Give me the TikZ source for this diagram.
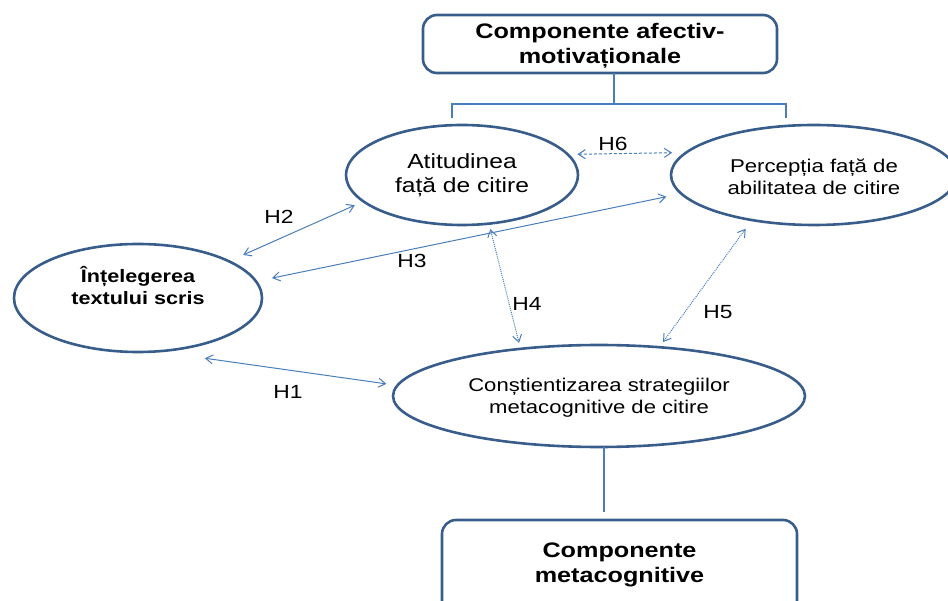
\documentclass[tikz,border=0pt]{standalone}
\usepackage{fontspec}
\setmainfont{Liberation Sans}[FakeStretch=1.2]
\usetikzlibrary{arrows.meta,shapes.geometric,calc}

\definecolor{frameblue}{RGB}{56,93,138}
\definecolor{linkblue}{RGB}{74,126,187}

\tikzset{
  oval/.style={ellipse, draw=frameblue, line width=2.6pt, inner sep=0pt,
    outer sep=0pt, align=center, text=black},
  panel/.style={rectangle, rounded corners=14pt, draw=frameblue,
    line width=2.6pt, outer sep=0pt, align=center},
  panelfont/.style={font=\bfseries\fontsize{21}{24.5}\selectfont},
  barb/.tip={Straight Barb[length=7pt,width=9pt]},
  link/.style={draw=linkblue, line width=1pt, barb-barb},
  hyp/.style={font=\fontsize{19}{22}\selectfont, text=black, inner sep=0pt},
  tie/.style={draw=linkblue, line width=1.3pt},
}

\begin{document}
\begin{tikzpicture}[x=1pt, y=-1pt]
  \useasboundingbox (0,0) rectangle (948,601);
  \clip (0,0) rectangle (948,601);

  % the two component boxes
  \node[panel, panelfont, minimum width=354pt, minimum height=58pt,
    text height=43pt]
    (affect) at (600,44) {Componente afectiv-\\motivaționale};
  \node[panel, minimum width=355pt, minimum height=130pt, anchor=north]
    (meta) at (619.5,520) {};
  \node[panelfont, align=center, inner sep=0pt] (metatext) at (619.5,565)
    {Componente\\metacognitive};

  % the four constructs
  \node[oval, minimum width=248pt, minimum height=108pt, text depth=25pt,
    font=\bfseries\fontsize{18}{21.5}\selectfont]
    (read) at (138,298) {Înțelegerea\\textului scris};
  \node[oval, minimum width=232pt, minimum height=100pt,
    font=\fontsize{20.5}{23.7}\selectfont]
    (att) at (462,175) {Atitudinea\\față de citire};
  \node[oval, minimum width=286pt, minimum height=100pt, text height=39.5pt,
    font=\fontsize{18.5}{22}\selectfont]
    (perc) at (814,175) {Percepția față de\\abilitatea de citire};
  \node[oval, minimum width=412pt, minimum height=102pt, text height=39.5pt,
    font=\fontsize{18.4}{22}\selectfont]
    (cons) at (599,396) {Conștientizarea strategiilor\\metacognitive de citire};

  % bracket grouping the affective-motivational constructs
  \coordinate (brL) at ($(att.north)+(-10,-7)$);
  \coordinate (brR) at ($(perc.north)+(-28,-7)$);
  \draw[tie] (affect.south) ++(14,0) -- ++(0,31);
  \draw[tie] (brL) -- ++(0,-14) -| (brR);

  % link to the metacognitive component
  \draw[tie] (cons.south) ++(5,0) -- ++(0,65);

  % hypotheses
  \draw[link, shorten <=49pt, shorten >=11.2pt] (read.289.2) -- (cons.177.96);
  \draw[link, shorten <=15.6pt, shorten >=9.5pt] (read.22.1) -- (att.195.6);
  \draw[link, shorten <=16.4pt, shorten >=15.2pt] (read.8.1) -- (perc.188.7);
  \draw[link, densely dotted, shorten <=5.6pt, shorten >=6.1pt]
    (att.299.7) -- (cons.149.4);
  \draw[link, densely dotted, shorten <=10.8pt, shorten >=6.4pt]
    (perc.216.9) -- (cons.39.6);
  \draw[link, dash pattern=on 3pt off 2pt, shorten <=9.7pt, shorten >=14.2pt]
    (att.11.3) -- (perc.170.85);

  \node[hyp] (h1) at (288,392) {H1};
  \node[hyp] (h2) at (279,217) {H2};
  \node[hyp] (h3) at (412,261) {H3};
  \node[hyp] (h4) at (527,304) {H4};
  \node[hyp] (h5) at (718,312) {H5};
  \node[hyp] (h6) at (613,144) {H6};
\end{tikzpicture}
\end{document}
